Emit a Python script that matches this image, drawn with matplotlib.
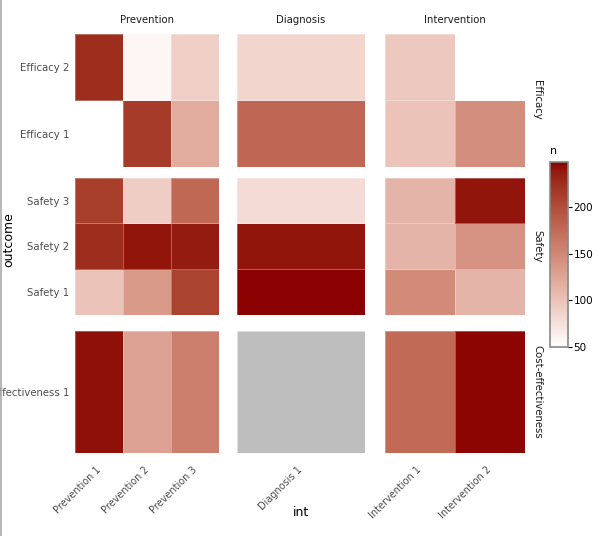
import numpy as np
import pandas as pd
import matplotlib
matplotlib.use("Agg")
import matplotlib.pyplot as plt
from matplotlib.colors import ListedColormap, Normalize, to_rgb
from matplotlib.lines import Line2D


# categorias de las facetas
row_groups = ["Efficacy", "Safety", "Cost-effectiveness"]
col_groups = ["Prevention", "Diagnosis", "Intervention"]

efficacy_outcomes = ["Efficacy 1", "Efficacy 2"]
safety_outcomes = ["Safety 1", "Safety 2", "Safety 3"]
cost_outcomes = ["Cost-effectiveness 1"]

prevention_ints = ["Prevention 1", "Prevention 2", "Prevention 3"]
diagnosis_ints = ["Diagnosis 1"]
intervention_ints = ["Intervention 1", "Intervention 2"]

# datos en formato largo (outcome, int, n); NaN = celda gris
outcome = (["Efficacy 2"] * 6 + ["Efficacy 1"] * 5 + ["Safety 3"] * 6 +
           ["Safety 2"] * 6 + ["Safety 1"] * 6 + ["Cost-effectiveness 1"] * 6)
intv = (["Prevention 1", "Prevention 2", "Prevention 3", "Diagnosis 1", "Intervention 1", "Intervention 2"] +
        ["Prevention 2", "Prevention 3", "Diagnosis 1", "Intervention 1", "Intervention 2"] +
        ["Prevention 1", "Prevention 2", "Prevention 3", "Diagnosis 1", "Intervention 1", "Intervention 2"] * 4)
n = ([225, 57, 90, 85, 95, 50] +
     [215, 120, 178, 100, 145] +
     [212, 92, 177, 80, 112, 240] +
     [225, 240, 237, 240, 112, 140] +
     [100, 135, 208, 248, 148, 112] +
     [242, 128, 158, np.nan, 175, 246])

df = pd.DataFrame({"outcome": outcome, "int": intv, "n": n})

row_levels = [efficacy_outcomes, safety_outcomes, cost_outcomes]
col_levels = [prevention_ints, diagnosis_ints, intervention_ints]


# escala de color blanco -> darkred interpolada en Lab
def rgb2lab(rgb):
    rgb = np.asarray(rgb, float)
    lin = np.where(rgb <= 0.04045, rgb / 12.92, ((rgb + 0.055) / 1.055) ** 2.4)
    M = np.array([[0.4124, 0.3576, 0.1805], [0.2126, 0.7152, 0.0722], [0.0193, 0.1192, 0.9505]])
    xyz = M @ lin / np.array([0.95047, 1.0, 1.08883])
    f = np.where(xyz > (6 / 29) ** 3, np.cbrt(xyz), xyz / (3 * (6 / 29) ** 2) + 4 / 29)
    return np.array([116 * f[1] - 16, 500 * (f[0] - f[1]), 200 * (f[1] - f[2])])


def lab2rgb(lab):
    L, a, b = lab
    fy = (L + 16) / 116
    fx = fy + a / 500
    fz = fy - b / 200
    f = np.array([fx, fy, fz])
    xyz = np.where(f > 6 / 29, f ** 3, 3 * (6 / 29) ** 2 * (f - 4 / 29)) * np.array([0.95047, 1.0, 1.08883])
    Minv = np.linalg.inv(np.array([[0.4124, 0.3576, 0.1805], [0.2126, 0.7152, 0.0722], [0.0193, 0.1192, 0.9505]]))
    lin = np.clip(Minv @ xyz, 0, 1)
    return np.where(lin <= 0.0031308, 12.92 * lin, 1.055 * lin ** (1 / 2.4) - 0.055)


lab_lo = rgb2lab(to_rgb("white"))
lab_hi = rgb2lab(to_rgb("#8B0000"))
cols = [np.clip(lab2rgb(lab_lo + t * (lab_hi - lab_lo)), 0, 1) for t in np.linspace(0, 1, 256)]
cmap = ListedColormap(cols)
cmap.set_bad((0, 0, 0, 0))
norm = Normalize(vmin=np.nanmin(df["n"]), vmax=np.nanmax(df["n"]))

W, H = 608, 536
fig = plt.figure(figsize=(W / 100, H / 100), dpi=100)

col_px = [(75.3, 219.3), (236.7, 365.3), (385, 525.3)]
row_px = [(34, 166.7), (177.7, 314.7), (331, 452.7)]

fs = 7.3
txt_col = "#4d4d4d"

for i, (rg, outs) in enumerate(zip(row_groups, row_levels)):
    for j, (cg, ints) in enumerate(zip(col_groups, col_levels)):
        x0, x1 = col_px[j]
        y0, y1 = row_px[i]
        ax = fig.add_axes([x0 / W, 1 - y1 / H, (x1 - x0) / W, (y1 - y0) / H])
        Z = np.full((len(outs), len(ints)), np.nan)
        na = np.full((len(outs), len(ints)), np.nan)
        sub = df[df["outcome"].isin(outs) & df["int"].isin(ints)]
        for _, r in sub.iterrows():
            yi = outs.index(r["outcome"])
            xi = ints.index(r["int"])
            if np.isnan(r["n"]):
                na[yi, xi] = 1
            else:
                Z[yi, xi] = r["n"]
        xs = np.arange(len(ints) + 1)
        ys = np.arange(len(outs) + 1)
        ax.pcolormesh(xs, ys, np.ma.masked_invalid(na), cmap=ListedColormap(["#BEBEBE"]),
                      edgecolors=(1, 1, 1, 0.3), linewidth=0.5)
        ax.pcolormesh(xs, ys, np.ma.masked_invalid(Z), cmap=cmap, norm=norm,
                      edgecolors=(1, 1, 1, 0.3), linewidth=0.5)
        ax.set_xlim(0, len(ints))
        ax.set_ylim(0, len(outs))
        for s in ax.spines.values():
            s.set_visible(False)
        ax.tick_params(length=0)
        if j == 0:
            ax.set_yticks(np.arange(len(outs)) + 0.5)
            ax.set_yticklabels(outs, fontsize=fs, color=txt_col)
            ax.tick_params(axis="y", pad=4.5)
        else:
            ax.set_yticks([])
        if i == len(row_groups) - 1:
            ax.set_xticks(np.arange(len(ints)) + 0.5)
            ax.set_xticklabels(ints, fontsize=7, color=txt_col, rotation=45,
                               ha="right", va="center", rotation_mode="anchor")
            ax.tick_params(axis="x", pad=11)
        else:
            ax.set_xticks([])
        if i == 0:
            fig.text((x0 + x1) / 2 / W, 1 - 20 / H, cg, ha="center", va="center",
                     fontsize=fs, color="#1a1a1a")
        if j == len(col_groups) - 1:
            fig.text(537 / W, 1 - (y0 + y1) / 2 / H, rg, ha="center", va="center",
                     rotation=-90, fontsize=fs, color="#1a1a1a")

# titulos de ejes
fig.text(8.5 / W, 1 - 240 / H, "outcome", rotation=90, ha="center", va="center",
         fontsize=9, color="black")
fig.text(301 / W, 1 - 512 / H, "int", ha="center", va="center", fontsize=9, color="black")

# barra de color
cax = fig.add_axes([550 / W, 1 - 347 / H, 18 / W, 185 / H])
cb = fig.colorbar(plt.cm.ScalarMappable(norm=norm, cmap=cmap), cax=cax)
cb.set_ticks([50, 100, 150, 200])
cb.ax.tick_params(labelsize=7.5, length=3, width=0.8, pad=1, colors="black")
cb.outline.set_edgecolor("#888888")
cb.outline.set_linewidth(1.2)
fig.text(554 / W, 1 - 151 / H, "n", ha="center", va="center", fontsize=8, color="black")

# borde gris a la izquierda
fig.add_artist(Line2D([0.0015, 0.0015], [0, 1], color="#aaaaaa", lw=1.2))

fig.savefig("out.png", dpi=100)
